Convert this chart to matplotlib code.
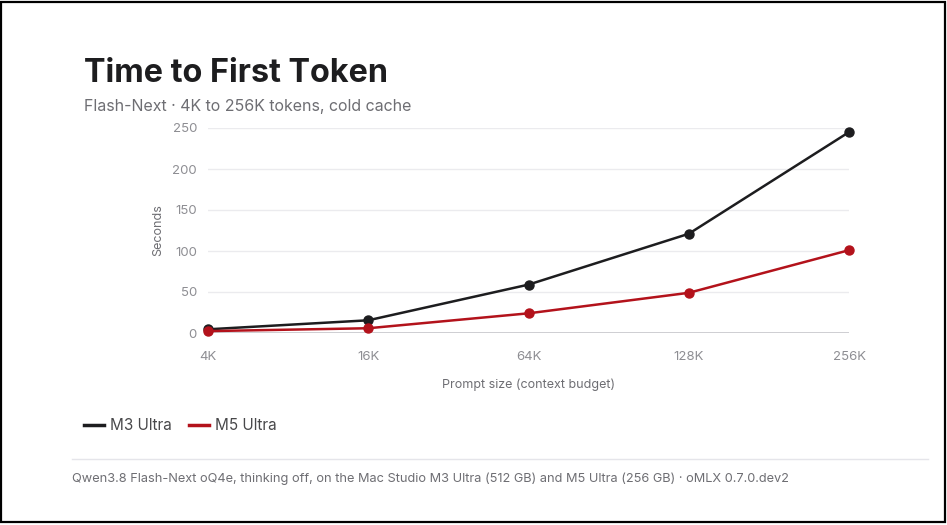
import matplotlib
matplotlib.use("Agg")
import matplotlib.pyplot as plt
from matplotlib.patches import Rectangle
from matplotlib.lines import Line2D

plt.rcParams['font.family'] = ['Inter', 'DejaVu Sans']

# data
prompt_sizes = ["4K", "16K", "64K", "128K", "256K"]
m3_ultra = [4.5, 15.5, 59, 121, 245]
m5_ultra = [2.3, 5.8, 24, 49, 101]
y_ticks = [0, 50, 100, 150, 200, 250]

W, H = 947, 525
fig = plt.figure(figsize=(W / 100, H / 100), dpi=100)
fig.patch.set_facecolor("white")

def px(x, y):
    # pixel coords (top-left origin) -> figure fraction
    return x / W, 1 - y / H

# frame around the card
fig.patches.append(Rectangle((1 / W, 3 / H), 944 / W, 520 / H, transform=fig.transFigure,
                             fill=False, edgecolor="black", linewidth=1.6))

ax = fig.add_axes([208 / W, (H - 333) / H, 641 / W, 205 / H])
xs = list(range(len(prompt_sizes)))
ax.plot(xs, m3_ultra, color="#1d1d1f", lw=1.8, marker="o", ms=6.5, clip_on=False, zorder=3)
ax.plot(xs, m5_ultra, color="#b3121b", lw=1.8, marker="o", ms=6.5, clip_on=False, zorder=3)

ax.set_xlim(0, len(prompt_sizes) - 1)
ax.set_ylim(0, 250)
ax.set_yticks(y_ticks)
ax.set_xticks(xs)
ax.set_xticklabels(prompt_sizes)
for s in ax.spines.values():
    s.set_visible(False)
ax.grid(axis="y", color="#ebebee", lw=1)
ax.axhline(0, color="#c8c8cc", lw=1.4, zorder=1)
ax.tick_params(length=0, labelsize=9.5, colors="#8e8e93")
ax.tick_params(axis="y", pad=8)
ax.tick_params(axis="x", pad=13)
ax.set_ylabel("Seconds", fontsize=9, color="#6e6e73", labelpad=6)
ax.set_xlabel("Prompt size (context budget)", fontsize=9, color="#6e6e73", labelpad=11)

fig.text(*px(84, 82), "Time to First Token", fontsize=23.3, fontweight="bold",
         color="#1d1d1f", va="baseline")
fig.text(*px(84, 111), "Flash-Next \u00b7 4K to 256K tokens, cold cache", fontsize=11.5,
         color="#6e6e73", va="baseline")

# legend
fig.add_artist(Line2D([84 / W, 104 / W], [1 - 425 / H] * 2, color="#1d1d1f", lw=2.5,
                      transform=fig.transFigure))
fig.text(*px(110, 425), "M3 Ultra", fontsize=11, color="#48484a", va="center")
fig.add_artist(Line2D([189 / W, 209 / W], [1 - 425 / H] * 2, color="#b3121b", lw=2.5,
                      transform=fig.transFigure))
fig.text(*px(215, 425), "M5 Ultra", fontsize=11, color="#48484a", va="center")

# separator + footnote
fig.add_artist(Line2D([72 / W, 928 / W], [1 - 459 / H] * 2, color="#e5e5ea", lw=1,
                      transform=fig.transFigure))
fig.text(*px(72, 479), "Qwen3.8 Flash-Next oQ4e, thinking off, on the Mac Studio M3 Ultra (512 GB) "
         "and M5 Ultra (256 GB) \u00b7 oMLX 0.7.0.dev2", fontsize=9.2, color="#6e6e73", va="center")

fig.savefig("out.png", dpi=100, facecolor="white")
